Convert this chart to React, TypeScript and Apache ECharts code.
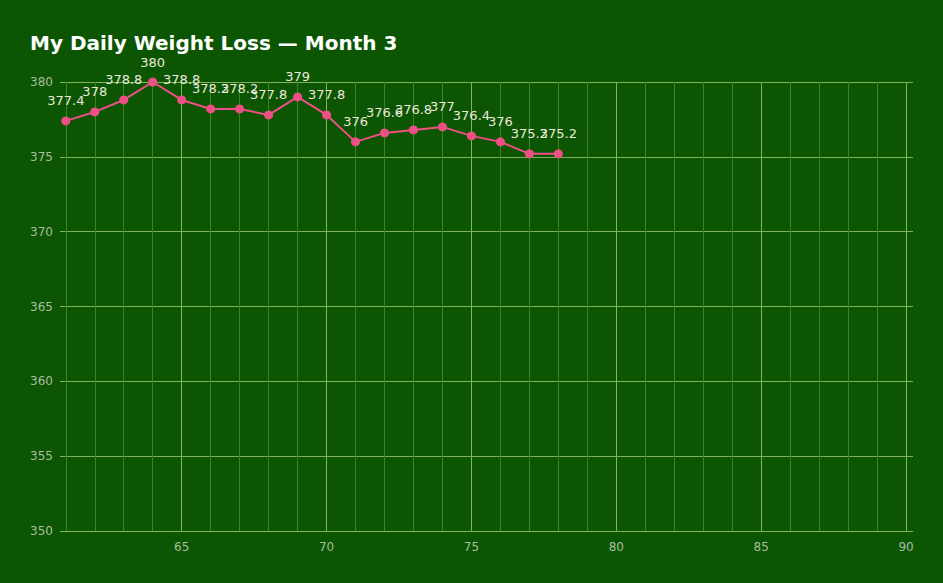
import React, { useEffect, useRef } from "react";
import * as echarts from "echarts";

const days = [61, 62, 63, 64, 65, 66, 67, 68, 69, 70, 71, 72, 73, 74, 75, 76, 77, 78];
const weights = [377.4, 378, 378.8, 380, 378.8, 378.2, 378.2, 377.8, 379, 377.8, 376, 376.6, 376.8, 377, 376.4, 376, 375.2, 375.2];
const xTickLabels = [65, 70, 75, 80, 85, 90];
const xGridValues = [61, 62, 63, 64, 65, 66, 67, 68, 69, 70, 71, 72, 73, 74, 75, 76, 77, 78, 79, 80, 81, 82, 83, 84, 85, 86, 87, 88, 89, 90];

export default function App() {
  const ref = useRef<HTMLDivElement>(null);
  useEffect(() => {
    if (!ref.current) return;
    const chart = echarts.init(ref.current, null, { renderer: "svg" });
    const font = "'DejaVu Sans', Verdana, sans-serif";
    chart.setOption({
      animation: false,
      backgroundColor: "#0c5603",
      title: {
        text: "My Daily Weight Loss — Month 3",
        left: 25,
        top: 28,
        textStyle: { color: "#ffffff", fontFamily: font, fontWeight: "bold", fontSize: 20 },
      },
      grid: { left: 60, right: 30, top: 82, bottom: 52 },
      xAxis: {
        type: "value",
        min: 60.8,
        max: 90.24,
        axisLine: { show: false },
        axisTick: { show: false },
        splitLine: { show: false },
        axisLabel: {
          customValues: xTickLabels,
          color: "#a9bca0",
          fontFamily: font,
          fontSize: 12,
          margin: 10,
        },
      },
      yAxis: {
        type: "value",
        min: 350,
        max: 380,
        interval: 5,
        axisLine: { show: false },
        axisTick: { show: false },
        axisLabel: { color: "#a9bca0", fontFamily: font, fontSize: 12, margin: 7 },
        splitLine: { show: true, lineStyle: { color: "#80b45c", width: 1 } },
      },
      series: [
        {
          type: "line",
          data: [],
          silent: true,
          markLine: {
            silent: true,
            symbol: "none",
            label: { show: false },
            animation: false,
            data: xGridValues.map((v) => ({
              xAxis: v,
              lineStyle: {
                type: "solid",
                width: 1,
                color: v % 5 === 0 ? "#7fb65a" : "#3e8420",
              },
            })),
          },
        },
        {
          type: "line",
          data: days.map((d, i) => [d, weights[i]]),
          z: 5,
          symbol: "circle",
          symbolSize: 9,
          lineStyle: { color: "#ef4f86", width: 2 },
          itemStyle: { color: "#ef4f86" },
          label: {
            show: true,
            position: "top",
            distance: 9,
            color: "#ece8dc",
            fontFamily: font,
            fontSize: 13,
          },
        },
      ],
    });
    return () => chart.dispose();
  }, []);
  return (
    <div
      ref={ref}
      style={{ position: "fixed", left: 0, top: 0, width: 943, height: 583 }}
    />
  );
}
